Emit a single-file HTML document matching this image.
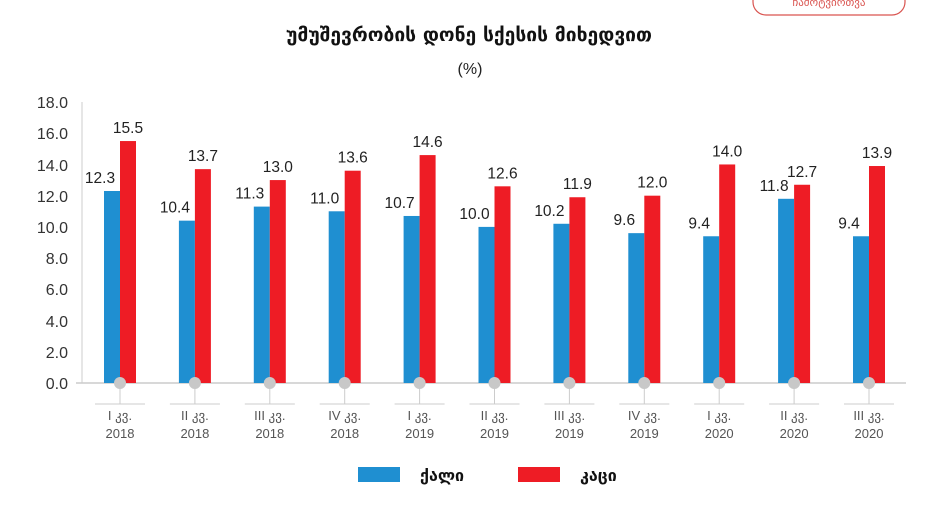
<!DOCTYPE html>
<html><head><meta charset="utf-8"><style>
body{margin:0;background:#fff;width:952px;height:520px;overflow:hidden}
.g{font-family:"DejaVu Sans","Liberation Sans",sans-serif}
.l{font-family:"Liberation Sans",sans-serif}
</style></head><body>
<svg width="952" height="520" viewBox="0 0 952 520" xmlns="http://www.w3.org/2000/svg">
<rect x="753" y="-12" width="152" height="27" rx="13" fill="none" stroke="#d9534f" stroke-width="1.2"/>
<text class="g" x="829" y="6" font-size="11" fill="#d9534f" text-anchor="middle">ჩამოტვირთვა</text>
<text class="g" x="469" y="41" font-size="19" font-weight="bold" text-anchor="middle" fill="#111" textLength="366" lengthAdjust="spacingAndGlyphs">უმუშევრობის დონე სქესის მიხედვით</text>
<text class="l" x="470" y="74" font-size="16" text-anchor="middle" fill="#222">(%)</text>
<g class="l" font-size="16" fill="#333" text-anchor="end">
<text x="68" y="389">0.0</text><text x="68" y="358">2.0</text><text x="68" y="327">4.0</text><text x="68" y="295">6.0</text><text x="68" y="264">8.0</text><text x="68" y="233">10.0</text><text x="68" y="202">12.0</text><text x="68" y="171">14.0</text><text x="68" y="139">16.0</text><text x="68" y="108">18.0</text>
</g>
<line x1="82" y1="102" x2="82" y2="383" stroke="#ccc"/>
<line x1="76" y1="383" x2="906" y2="383" stroke="#ccc" stroke-width="1.5"/>
<g id="bars"></g>
<rect x="358" y="467" width="42" height="15" fill="#1f8fd1"/>
<text class="g" x="420" y="481" font-size="16" font-weight="bold" fill="#111">ქალი</text>
<rect x="518" y="467" width="42" height="15" fill="#ee1c25"/>
<text class="g" x="580" y="481" font-size="16" font-weight="bold" fill="#111">კაცი</text>
</svg>
<script>
const f=[12.3,10.4,11.3,11.0,10.7,10.0,10.2,9.6,9.4,11.8,9.4],m=[15.5,13.7,13.0,13.6,14.6,12.6,11.9,12.0,14.0,12.7,13.9];
const q=["I","II","III","IV"],lab=[];for(let i=0;i<11;i++){lab.push([q[i%4]+" კვ.",2018+Math.floor(i/4)]);}
let s="";const k=15.61;
for(let i=0;i<11;i++){const c=120+i*74.9;const hf=f[i]*k,hm=m[i]*k;
s+=`<rect x="${c-16}" y="${383-hf}" width="16" height="${hf}" fill="#1f8fd1"/>`;
s+=`<rect x="${c}" y="${383-hm}" width="16" height="${hm}" fill="#ee1c25"/>`;
s+=`<text class="l" x="${c-20}" y="${383-hf-8}" font-size="15.5" fill="#222" text-anchor="middle">${f[i].toFixed(1)}</text>`;
s+=`<text class="l" x="${c+8}" y="${383-hm-8}" font-size="15.5" fill="#222" text-anchor="middle">${m[i].toFixed(1)}</text>`;
s+=`<line x1="${c}" y1="383" x2="${c}" y2="404" stroke="#ccc"/><line x1="${c-25}" y1="404" x2="${c+25}" y2="404" stroke="#ccc"/>`;
s+=`<circle cx="${c}" cy="383" r="6" fill="#c8c8c8"/>`;
s+=`<text class="l" x="${c}" y="420" font-size="13" fill="#555" text-anchor="middle">${lab[i][0]}</text>`;
s+=`<text class="l" x="${c}" y="438" font-size="13" fill="#555" text-anchor="middle">${lab[i][1]}</text>`;}
document.getElementById("bars").innerHTML=s;
</script>
</body></html>
